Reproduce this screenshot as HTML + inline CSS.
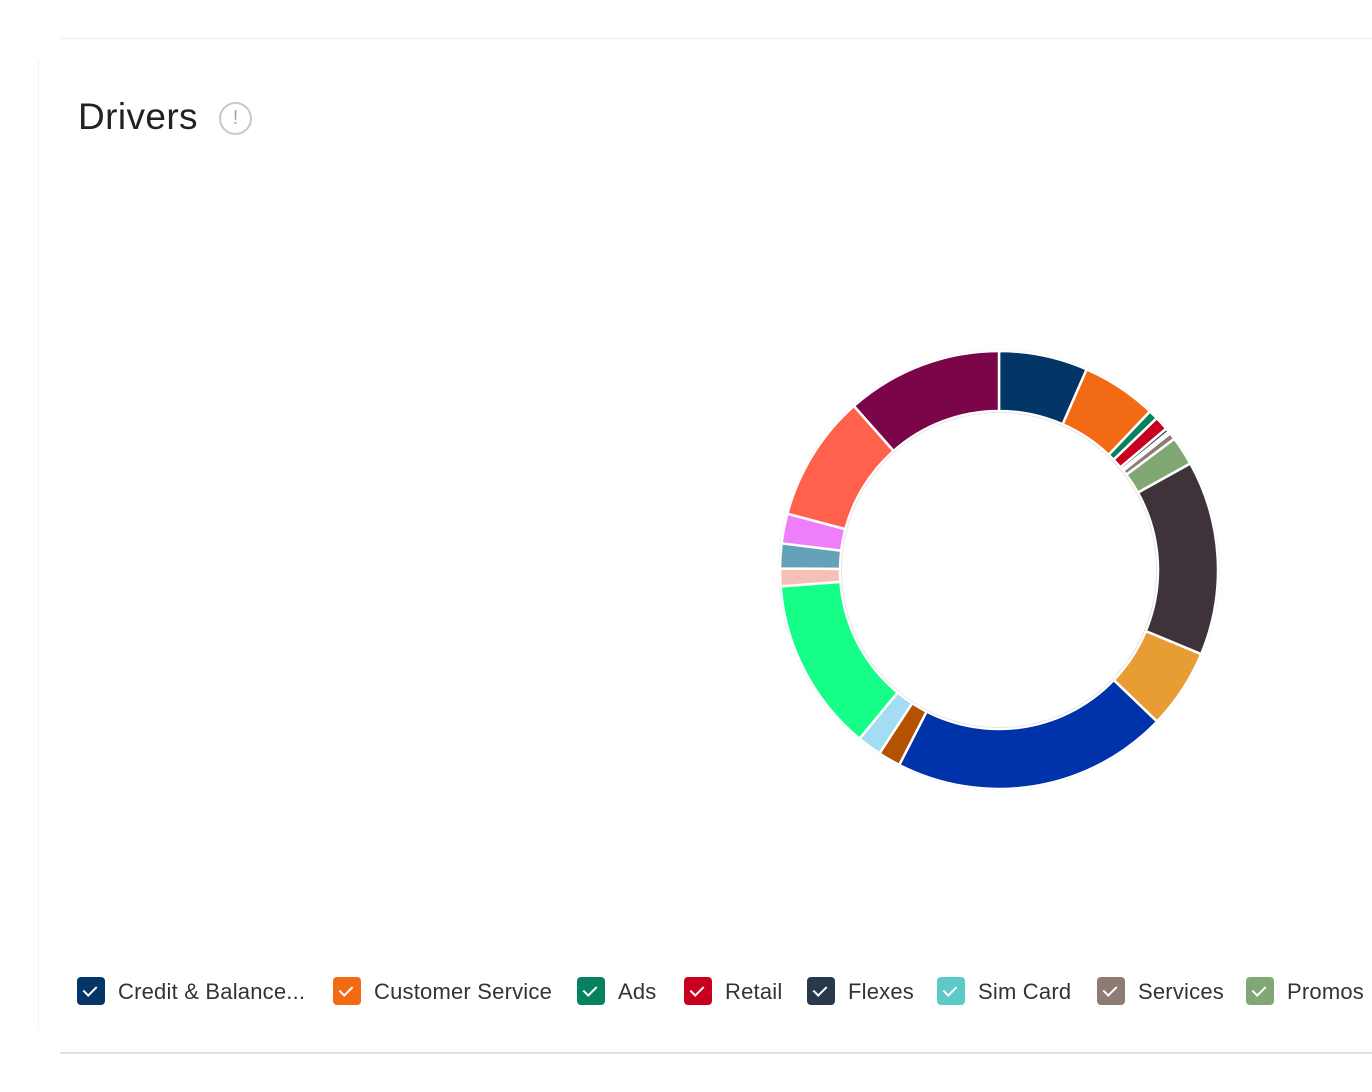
<!DOCTYPE html>
<html><head><meta charset="utf-8"><style>
html,body{margin:0;padding:0;background:#fff;width:1372px;height:1092px;overflow:hidden;position:relative;font-family:"Liberation Sans",sans-serif}
.hl{position:absolute;left:60px;right:0;height:1px;background:#eee}
.vl{position:absolute;left:38px;top:60px;width:1px;height:970px;background:#f2f2f2}
h1{position:absolute;left:78px;top:96px;margin:0;font-weight:400;font-size:37px;color:#222;letter-spacing:0.4px}
.ic{position:absolute;left:219px;top:102px;width:29px;height:29px;border:2px solid #c8c8cc;border-radius:50%;color:#aaa;font-size:20px;text-align:center;line-height:29px}
.lg{position:absolute;top:977px;height:28px;display:flex;align-items:center;font-size:22px;color:#333;white-space:nowrap}
.lg span{position:relative;top:1px;letter-spacing:0.2px}
.bx{width:28px;height:28px;border-radius:4px;margin-right:13px;position:relative}
.bx:after{content:"";position:absolute;left:9px;top:6px;width:6px;height:11px;border:solid #fff;border-width:0 2px 2px 0;transform:rotate(45deg)}
</style></head><body>
<div class="hl" style="top:38px"></div>
<div class="hl" style="top:1052px;background:#e2e2e2;height:2px"></div>
<div class="vl"></div>
<h1>Drivers</h1>
<div class="ic">!</div>
<svg id="d" width="1372" height="1092" style="position:absolute;left:0;top:0"></svg>
<div class="lg" style="left:77px"><div class="bx" style="background:#033566"></div><span>Credit &amp; Balance...</span></div>
<div class="lg" style="left:333px"><div class="bx" style="background:#f26a13"></div><span>Customer Service</span></div>
<div class="lg" style="left:577px"><div class="bx" style="background:#078260"></div><span>Ads</span></div>
<div class="lg" style="left:684px"><div class="bx" style="background:#c8001f"></div><span>Retail</span></div>
<div class="lg" style="left:807px"><div class="bx" style="background:#27394a"></div><span>Flexes</span></div>
<div class="lg" style="left:937px"><div class="bx" style="background:#5ecac8"></div><span>Sim Card</span></div>
<div class="lg" style="left:1097px"><div class="bx" style="background:#8e7b73"></div><span>Services</span></div>
<div class="lg" style="left:1246px"><div class="bx" style="background:#81a874"></div><span>Promos</span></div>
<script>
var segs=[[0,23.6,"#033566"],[23.6,43.6,"#f26a13"],[43.6,46.1,"#078260"],[46.1,49.8,"#c8001f"],[49.8,50.8,"#27394a"],[50.8,51.4,"#5ecac8"],[51.4,53.2,"#8e7b73"],[53.2,60.9,"#81a874"],[60.9,112.6,"#3e333a"],[112.6,133.8,"#e89c34"],[133.8,207.1,"#0033aa"],[207.1,213.1,"#b35200"],[213.1,219.6,"#a4dcf2"],[219.6,265.7,"#15ff88"],[265.7,270.4,"#f5c1b6"],[270.4,277,"#65a1b8"],[277,284.9,"#ee7ff8"],[284.9,318.5,"#ff614d"],[318.5,360,"#7a0549"]];
var cx=999,cy=570,R=219,r=159,s="";
function p(a,rad){a=a*Math.PI/180;return (cx+rad*Math.sin(a)).toFixed(2)+","+(cy-rad*Math.cos(a)).toFixed(2)}
s+='<circle cx="'+cx+'" cy="'+cy+'" r="'+(R+1)+'" fill="none" stroke="#e6e6e6" stroke-width="1"/>';
segs.forEach(function(g){var l=(g[1]-g[0])>180?1:0;
s+='<path d="M'+p(g[0],R)+'A'+R+','+R+' 0 '+l+' 1 '+p(g[1],R)+'L'+p(g[1],r)+'A'+r+','+r+' 0 '+l+' 0 '+p(g[0],r)+'Z" fill="'+g[2]+'" stroke="#fff" stroke-width="2.5" stroke-linejoin="round"/>';});
s+='<circle cx="'+cx+'" cy="'+cy+'" r="'+(r-1.5)+'" fill="none" stroke="#e6e6e6" stroke-width="1"/>';
document.getElementById("d").innerHTML=s;
</script>
</body></html>
